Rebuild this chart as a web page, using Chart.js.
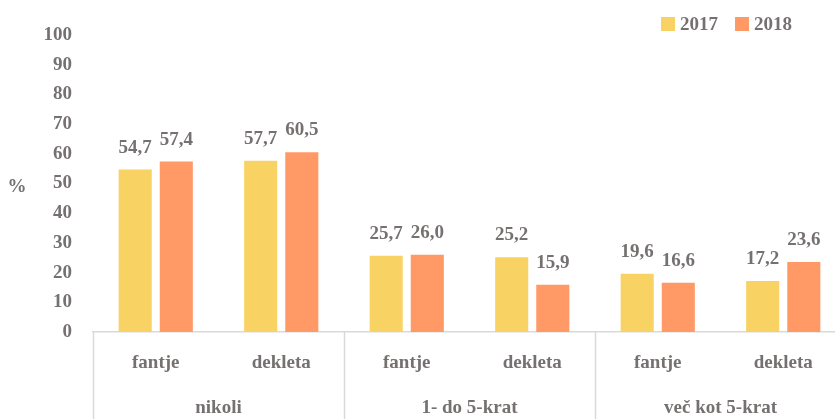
<!DOCTYPE html>
<html>
<head>
<meta charset="utf-8">
<script src="https://cdn.jsdelivr.net/npm/chart.js@4.4.0/dist/chart.umd.min.js"></script>
<style>
  html, body { margin: 0; padding: 0; background: #fff; overflow: hidden; }
  #okno { width: 835px; height: 419px; overflow: hidden; }
  #wrap { width: 846px; height: 419px; }
</style>
</head>
<body>
<div id="okno"><div id="wrap"><canvas id="graf"></canvas></div></div>
<script>
const skupine = ['nikoli', '1- do 5-krat', 'več kot 5-krat'];
const spol = ['fantje', 'dekleta', 'fantje', 'dekleta', 'fantje', 'dekleta'];
const leto2017 = [54.7, 57.7, 25.7, 25.2, 19.6, 17.2];
const leto2018 = [57.4, 60.5, 26.0, 15.9, 16.6, 23.6];
const yTicks = [0, 10, 20, 30, 40, 50, 60, 70, 80, 90, 100];

const SIVA = '#767171';
const PISAVA = '"Liberation Serif", "Times New Roman", serif';

// vrednosti nad stolpci, skupine pod osjo, legenda in oznaka %
const oznake = {
    id: 'oznake',
    afterDatasetsDraw(chart) {
        const ctx = chart.ctx;
        ctx.save();
        ctx.fillStyle = SIVA;
        ctx.font = 'bold 19px ' + PISAVA;
        ctx.textAlign = 'center';
        ctx.textBaseline = 'alphabetic';
        chart.data.datasets.forEach((ds, i) => {
            chart.getDatasetMeta(i).data.forEach((bar, j) => {
                const txt = ds.data[j].toFixed(1).replace('.', ',');
                ctx.fillText(txt, bar.x, bar.y - 17);
            });
        });
        ctx.restore();
    },
    afterDraw(chart) {
        const ctx = chart.ctx;
        const x = chart.scales.x;
        const area = chart.chartArea;
        ctx.save();
        // navpicne locnice med skupinami
        ctx.strokeStyle = '#d9d9d9';
        ctx.lineWidth = 1.5;
        const korak = (x.getPixelForValue(1) - x.getPixelForValue(0));
        for (let g = 0; g <= skupine.length; g++) {
            const px = Math.round(x.getPixelForValue(g * 2) - korak / 2) + 0.5;
            ctx.beginPath();
            ctx.moveTo(px, area.bottom);
            ctx.lineTo(px, chart.height);
            ctx.stroke();
        }
        ctx.fillStyle = SIVA;
        ctx.font = 'bold 19px ' + PISAVA;
        ctx.textAlign = 'center';
        ctx.textBaseline = 'middle';
        skupine.forEach((s, g) => {
            const cx = (x.getPixelForValue(g * 2) + x.getPixelForValue(g * 2 + 1)) / 2;
            ctx.fillText(s, cx, 408);
        });
        // oznaka osi
        ctx.fillText('%', 17, 187);
        // legenda
        ctx.textAlign = 'left';
        ctx.textBaseline = 'alphabetic';
        const poz = [661, 735];
        chart.data.datasets.forEach((ds, i) => {
            ctx.fillStyle = ds.backgroundColor;
            ctx.fillRect(poz[i], 17, 14, 14);
            ctx.fillStyle = SIVA;
            ctx.fillText(ds.label, poz[i] + 19, 30);
        });
        ctx.restore();
    }
};

new Chart(document.getElementById('graf'), {
    type: 'bar',
    data: {
        labels: spol,
        datasets: [
            { label: '2017', data: leto2017, backgroundColor: '#F9D264' },
            { label: '2018', data: leto2018, backgroundColor: '#FF9966' }
        ]
    },
    options: {
        responsive: true,
        maintainAspectRatio: false,
        animation: false,
        layout: { padding: { top: 35, right: 0, left: 0, bottom: 0 } },
        datasets: {
            bar: { barPercentage: 0.805, categoryPercentage: 0.655 }
        },
        scales: {
            x: {
                grid: { display: false, drawTicks: false },
                border: { display: true, color: '#d9d9d9', width: 1.5 },
                ticks: {
                    color: SIVA,
                    padding: 20,
                    maxRotation: 0,
                    font: { family: PISAVA, size: 19, weight: 'bold' }
                },
                afterFit(scale) { scale.height = 87; }
            },
            y: {
                min: 0,
                max: 100,
                grid: { display: false, drawTicks: false },
                border: { display: false },
                afterBuildTicks(scale) { scale.ticks = yTicks.map(v => ({ value: v })); },
                ticks: {
                    color: SIVA,
                    padding: 21,
                    font: { family: PISAVA, size: 19, weight: 'bold' }
                },
                afterFit(scale) { scale.width = 93; }
            }
        },
        plugins: {
            legend: { display: false },
            tooltip: { enabled: false }
        }
    },
    plugins: [oznake]
});
</script>
</body>
</html>
